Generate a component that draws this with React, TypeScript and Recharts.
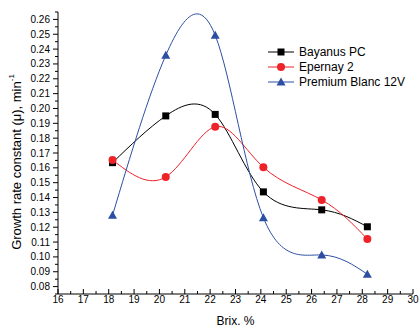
import React from 'react';
import { LineChart, Line, XAxis, YAxis } from 'recharts';

// Brix (%) at which each strain was sampled
const brix = [18.15, 20.25, 22.2, 24.1, 26.4, 28.2];

// growth rate constant, min^-1
const bayanusPC = [0.1635, 0.195, 0.196, 0.1438, 0.1317, 0.1203];
const epernay2 = [0.1653, 0.1539, 0.1877, 0.1604, 0.1384, 0.112];
const premiumBlanc12V = [0.128, 0.2358, 0.2493, 0.1264, 0.1013, 0.0883];

const xTickLabels = [16, 17, 18, 19, 20, 21, 22, 23, 24, 25, 26, 27, 28, 29, 30];
const yTickLabels = [0.08, 0.09, 0.1, 0.11, 0.12, 0.13, 0.14, 0.15, 0.16, 0.17, 0.18, 0.19, 0.2, 0.21, 0.22, 0.23, 0.24, 0.25, 0.26];

// minor ticks sit halfway between labelled ones
const xTicks = xTickLabels.flatMap((v, i) => (i < xTickLabels.length - 1 ? [v, v + 0.5] : [v]));
const yTicks = [0.075, ...yTickLabels.flatMap((v) => [v, +(v + 0.005).toFixed(3)])];

const rows = brix.map((b, i) => ({
  brix: b,
  bayanus: bayanusPC[i],
  epernay: epernay2[i],
  premium: premiumBlanc12V[i],
}));

const FONT = '"Liberation Sans", Arial, sans-serif';

type Shape = 'square' | 'circle' | 'triangle';

const series: { key: string; name: string; color: string; shape: Shape }[] = [
  { key: 'bayanus', name: 'Bayanus PC', color: '#000000', shape: 'square' },
  { key: 'epernay', name: 'Epernay 2', color: '#ee2229', shape: 'circle' },
  { key: 'premium', name: 'Premium Blanc 12V', color: '#2d4fa3', shape: 'triangle' },
];

const Marker = ({ cx, cy, color, shape }: { cx: number; cy: number; color: string; shape: Shape }) => {
  if (shape === 'square') return <rect x={cx - 3.5} y={cy - 3.5} width={7} height={7} fill={color} />;
  if (shape === 'circle') return <circle cx={cx} cy={cy} r={4} fill={color} />;
  return <path d={`M${cx},${cy - 4.5}L${cx + 4.5},${cy + 3.5}L${cx - 4.5},${cy + 3.5}Z`} fill={color} />;
};

const XTick = (props: any) => {
  const { x, y, payload } = props;
  const v = payload.value;
  const major = Math.abs(v - Math.round(v)) < 1e-6;
  return (
    <g>
      <line x1={x} x2={x} y1={y} y2={y - (major ? 5 : 3)} stroke="#000" />
      {major && (
        <text x={x} y={y + 9} textAnchor="middle" fontSize={10} fontFamily={FONT} fill="#000">
          {Math.round(v)}
        </text>
      )}
    </g>
  );
};

const YTick = (props: any) => {
  const { x, y, payload } = props;
  const v = payload.value;
  const major = Math.round(v * 1000) % 10 === 0;
  return (
    <g>
      <line x1={x} x2={x - (major ? 5 : 3)} y1={y} y2={y} stroke="#000" />
      {major && (
        <text x={x - 8} y={y + 3.5} textAnchor="end" fontSize={10} fontFamily={FONT} fill="#000">
          {v.toFixed(2)}
        </text>
      )}
    </g>
  );
};

// legend drawn as an overlay so it takes no room from the plot
const LegendBox = () => (
  <svg width={160} height={48} style={{ position: 'absolute', left: 262, top: 44 }}>
    {series.map((s, i) => {
      const cy = 8 + i * 15;
      return (
        <g key={s.key}>
          <line x1={6} x2={32} y1={cy} y2={cy} stroke={s.color} strokeWidth={1} />
          <Marker cx={19} cy={cy} color={s.color} shape={s.shape} />
          <text x={37} y={cy + 4} fontSize={12} fontFamily={FONT} fill="#000">
            {s.name}
          </text>
        </g>
      );
    })}
  </svg>
);

export default function App() {
  return (
    <div style={{ position: 'absolute', left: 0, top: 0, width: 420, height: 331, background: '#fff' }}>
      <LineChart width={420} height={331} data={rows} margin={{ top: 12, right: 7, left: 0, bottom: 0 }}>
        <XAxis
          type="number"
          dataKey="brix"
          domain={[16, 30]}
          ticks={xTicks}
          interval={0}
          height={37}
          tickSize={0}
          tickMargin={0}
          tick={<XTick />}
          stroke="#000"
          label={{ value: 'Brix. %', position: 'insideBottom', offset: 6, fontSize: 12, fontFamily: FONT, fill: '#000' }}
        />
        <YAxis
          type="number"
          domain={[0.075, 0.265]}
          ticks={yTicks}
          interval={0}
          width={58}
          tickSize={0}
          tickMargin={0}
          tick={<YTick />}
          stroke="#000"
          label={{
            content: () => (
              <text
                x={16}
                y={162}
                transform="rotate(-90, 16, 162)"
                textAnchor="middle"
                dominantBaseline="central"
                fontSize={13}
                fontFamily={FONT}
                fill="#000"
              >
                Growth rate constant (μ), min<tspan dy={-5} fontSize={8}>-1</tspan>
              </text>
            ),
          }}
        />
        {series.map((s) => (
          <Line
            key={s.key}
            dataKey={s.key}
            name={s.name}
            type="natural"
            stroke={s.color}
            strokeWidth={1}
            isAnimationActive={false}
            dot={(p: any) => <Marker key={`${s.key}-${p.index}`} cx={p.cx} cy={p.cy} color={s.color} shape={s.shape} />}
            activeDot={false}
          />
        ))}
      </LineChart>
      <LegendBox />
    </div>
  );
}
